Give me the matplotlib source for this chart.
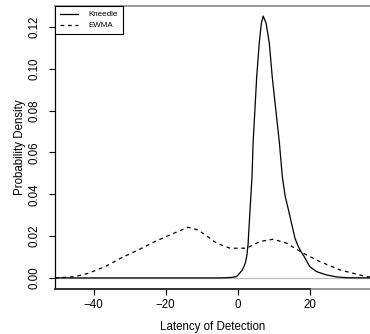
import matplotlib
matplotlib.use("Agg")
import matplotlib.pyplot as plt
import numpy as np

plt.rcParams["font.family"] = ["Liberation Sans", "DejaVu Sans"]

# densities
kneedle_x = [-50.7, -5, -2, -0.4, 0.55, 1.1, 1.66, 2.1, 2.5, 2.8, 3.3, 3.9, 4.2,
             4.7, 5.2, 5.9, 6.5, 7.0, 7.8, 8.7, 9.5, 10.5, 11.5, 12.3, 13.1,
             14.0, 15.0, 15.8, 16.6, 17.5, 18.5, 19.9, 21.8, 24.6, 27.3, 30.0, 36.6]
kneedle_y = [0, 0, 0.0002, 0.0006, 0.0024, 0.0035, 0.0054, 0.0075, 0.011, 0.016,
             0.031, 0.0484, 0.0644, 0.0803, 0.0962, 0.1122, 0.1218, 0.1252,
             0.1218, 0.1122, 0.0962, 0.0803, 0.0644, 0.0484, 0.039, 0.0325,
             0.025, 0.019, 0.0155, 0.0125, 0.0098, 0.0054, 0.003, 0.0014,
             0.0005, 0.0001, 0]

ewma_x = [-50.7, -45.2, -41.5, -36.8, -32.2, -27.6, -23.0, -18.4, -13.8, -11.0,
          -9.1, -5.9, -2.2, 2.4, 6.1, 9.8, 13.5, 18.1, 22.7, 28.3, 35.6, 36.6]
ewma_y = [0.0, 0.0006, 0.0022, 0.0054, 0.0097, 0.0134, 0.0174, 0.0209, 0.0242,
          0.0229, 0.0206, 0.0166, 0.0142, 0.0142, 0.0174, 0.0185, 0.0166,
          0.0118, 0.0078, 0.0038, 0.0006, 0.0005]

x_ticks = [-40, -20, 0, 20]
y_ticks = [0.00, 0.02, 0.04, 0.06, 0.08, 0.10, 0.12]

fig = plt.figure(figsize=(3.70, 3.34), dpi=100)
ax = fig.add_axes([55 / 370, 45 / 334, 315 / 370, 283 / 334])

ax.axhline(0, color="#bbbbbb", lw=0.9, zorder=1)
ax.plot(kneedle_x, kneedle_y, color="black", lw=0.9, label="Kneedle", zorder=3)
ax.plot(ewma_x, ewma_y, color="black", lw=0.9, dashes=(3, 3), label="EWMA", zorder=2)

ax.set_xlim(-50.7, 36.6)
ax.set_ylim(-0.0053, 0.130)

ax.set_xticks(x_ticks)
ax.set_xticklabels(["\u221240", "\u221220", "0", "20"])
ax.set_yticks(y_ticks)
ax.set_yticklabels(["%.2f" % v for v in y_ticks], rotation=90, va="center")
ax.tick_params(axis="both", direction="out", length=4.3, width=0.8, labelsize=8.3)
ax.tick_params(axis="x", pad=3.0)
ax.tick_params(axis="y", pad=6.0)

for side in ["top", "bottom"]:
    ax.spines[side].set_color("#888888")
    ax.spines[side].set_linewidth(1.2)
ax.spines["right"].set_visible(False)
ax.spines["left"].set_color("black")
ax.spines["left"].set_linewidth(0.9)
# dark axis line on the bottom as far as the last tick
ax.plot([-50.7, 20], [-0.0053, -0.0053], color="#222222", lw=1.2, clip_on=False, zorder=4)

ax.set_xlabel("Latency of Detection", fontsize=8.3, labelpad=7)
ax.set_ylabel("Probability Density", fontsize=8.3, labelpad=2)

leg = ax.legend(loc="upper left", bbox_to_anchor=(0, 1), borderaxespad=0,
                fontsize=5.8, fancybox=False, handlelength=2.2,
                handletextpad=1.4, borderpad=0.6, labelspacing=0.4, framealpha=1)
leg.get_frame().set_edgecolor("black")
leg.get_frame().set_linewidth(0.8)

plt.savefig("out.png", dpi=100)
plt.close()
